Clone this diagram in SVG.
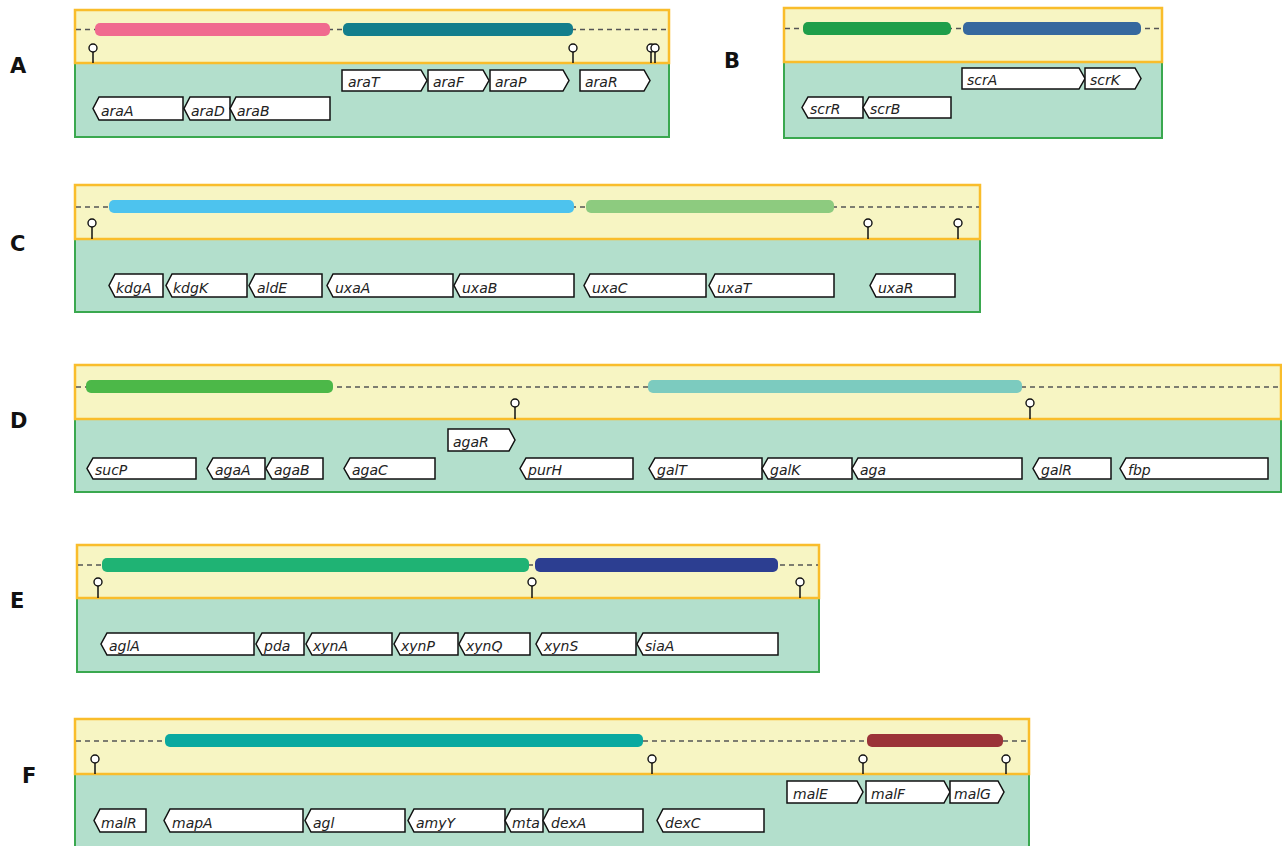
<svg xmlns="http://www.w3.org/2000/svg" width="1282" height="846" viewBox="0 0 1282 846">
<style>
.yel{fill:#f7f5c3;stroke:#f9bd2b;stroke-width:2.5}
.grn{fill:#b3dfcc;stroke:#3aa84f;stroke-width:2}
.bb{stroke:#555;stroke-width:1.3;stroke-dasharray:5 4;fill:none}
.gene{fill:#fff;stroke:#111;stroke-width:1.5}
.gt{font-family:"DejaVu Sans",Verdana,sans-serif;font-style:italic;font-size:14px;fill:#222}
.pl{font-family:"DejaVu Sans",Verdana,sans-serif;font-size:21px;font-weight:bold;fill:#111}
.stem{stroke:#111;stroke-width:1.5}
.pin{fill:#fff;stroke:#111;stroke-width:1.4}
</style>
<rect width="1282" height="846" fill="#fff"/>

<!-- Panel A -->
<g id="panelA">
<text class="pl" x="10" y="73">A</text>
<rect class="grn" x="75" y="63" width="594" height="74"/>
<rect class="yel" x="75" y="10" width="594" height="53"/>
<line class="bb" x1="76" y1="29.5" x2="668" y2="29.5"/>
<rect x="95" y="23" width="235" height="13" rx="5" fill="#f06a8f"/>
<rect x="343" y="23" width="230" height="13" rx="5" fill="#137e8c"/>
<g id="termA"><line class="stem" x1="93" y1="52" x2="93" y2="63"/><circle class="pin" cx="93" cy="48" r="4"/>
<line class="stem" x1="573" y1="52" x2="573" y2="63"/><circle class="pin" cx="573" cy="48" r="4"/>
<line class="stem" x1="651" y1="52" x2="651" y2="63"/><circle class="pin" cx="651" cy="48" r="4"/>
<line class="stem" x1="655" y1="52" x2="655" y2="63"/><circle class="pin" cx="655" cy="48" r="4"/></g>
<g id="araT"><polygon class="gene" points="342,70 421,70 427,80.5 421,91 342,91"/><text class="gt" x="348" y="87">araT</text></g>
<g id="araF"><polygon class="gene" points="428,70 483,70 489,80.5 483,91 428,91"/><text class="gt" x="433" y="87">araF</text></g>
<g id="araP"><polygon class="gene" points="490,70 563,70 569,80.5 563,91 490,91"/><text class="gt" x="495" y="87">araP</text></g>
<g id="araR"><polygon class="gene" points="580,70 644,70 650,80.5 644,91 580,91"/><text class="gt" x="585" y="87">araR</text></g>
<g id="araA"><polygon class="gene" points="99,97 183,97 183,120 99,120 93,108.5"/><text class="gt" x="101" y="116">araA</text></g>
<g id="araD"><polygon class="gene" points="190,97 230,97 230,120 190,120 184,108.5"/><text class="gt" x="191" y="116">araD</text></g>
<g id="araB"><polygon class="gene" points="236,97 330,97 330,120 236,120 230,108.5"/><text class="gt" x="237" y="116">araB</text></g>
</g>

<!-- Panel B -->
<g id="panelB">
<text class="pl" x="724" y="68">B</text>
<rect class="grn" x="784" y="62" width="378" height="76"/>
<rect class="yel" x="784" y="8" width="378" height="54"/>
<line class="bb" x1="785" y1="28.5" x2="1161" y2="28.5"/>
<rect x="803" y="22" width="148" height="13" rx="5" fill="#1f9e4a"/>
<rect x="963" y="22" width="178" height="13" rx="5" fill="#36689e"/>
<g id="scrA"><polygon class="gene" points="962,68 1079,68 1085,78.5 1079,89 962,89"/><text class="gt" x="967" y="85">scrA</text></g>
<g id="scrK"><polygon class="gene" points="1085,68 1135,68 1141,78.5 1135,89 1085,89"/><text class="gt" x="1090" y="85">scrK</text></g>
<g id="scrR"><polygon class="gene" points="808,97 863,97 863,118 808,118 802,107.5"/><text class="gt" x="810" y="114">scrR</text></g>
<g id="scrB"><polygon class="gene" points="869,97 951,97 951,118 869,118 863,107.5"/><text class="gt" x="870" y="114">scrB</text></g>
</g>

<!-- Panel C -->
<g id="panelC">
<text class="pl" x="10" y="251">C</text>
<rect class="grn" x="75" y="239" width="905" height="73"/>
<rect class="yel" x="75" y="185" width="905" height="54"/>
<line class="bb" x1="76" y1="207" x2="979" y2="207"/>
<rect x="109" y="200" width="465" height="13" rx="5" fill="#4dc3ee"/>
<rect x="586" y="200" width="248" height="13" rx="5" fill="#8dcb7f"/>
<g id="termC"><line class="stem" x1="92" y1="227" x2="92" y2="239"/><circle class="pin" cx="92" cy="223" r="4"/>
<line class="stem" x1="868" y1="227" x2="868" y2="239"/><circle class="pin" cx="868" cy="223" r="4"/>
<line class="stem" x1="958" y1="227" x2="958" y2="239"/><circle class="pin" cx="958" cy="223" r="4"/></g>
<g id="kdgA"><polygon class="gene" points="115,274 163,274 163,297 115,297 109,285.5"/><text class="gt" x="116" y="293">kdgA</text></g>
<g id="kdgK"><polygon class="gene" points="172,274 247,274 247,297 172,297 166,285.5"/><text class="gt" x="173" y="293">kdgK</text></g>
<g id="aldE"><polygon class="gene" points="255,274 322,274 322,297 255,297 249,285.5"/><text class="gt" x="257" y="293">aldE</text></g>
<g id="uxaA"><polygon class="gene" points="333,274 453,274 453,297 333,297 327,285.5"/><text class="gt" x="335" y="293">uxaA</text></g>
<g id="uxaB"><polygon class="gene" points="460,274 574,274 574,297 460,297 454,285.5"/><text class="gt" x="462" y="293">uxaB</text></g>
<g id="uxaC"><polygon class="gene" points="590,274 706,274 706,297 590,297 584,285.5"/><text class="gt" x="592" y="293">uxaC</text></g>
<g id="uxaT"><polygon class="gene" points="715,274 834,274 834,297 715,297 709,285.5"/><text class="gt" x="717" y="293">uxaT</text></g>
<g id="uxaR"><polygon class="gene" points="876,274 955,274 955,297 876,297 870,285.5"/><text class="gt" x="878" y="293">uxaR</text></g>
</g>

<!-- Panel D -->
<g id="panelD">
<text class="pl" x="10" y="428">D</text>
<rect class="grn" x="75" y="419" width="1206" height="73"/>
<rect class="yel" x="75" y="365" width="1206" height="54"/>
<line class="bb" x1="76" y1="387" x2="1280" y2="387"/>
<rect x="86" y="380" width="247" height="13" rx="5" fill="#4cb848"/>
<rect x="648" y="380" width="374" height="13" rx="5" fill="#7ccbbf"/>
<g id="termD"><line class="stem" x1="515" y1="407" x2="515" y2="419"/><circle class="pin" cx="515" cy="403" r="4"/>
<line class="stem" x1="1030" y1="407" x2="1030" y2="419"/><circle class="pin" cx="1030" cy="403" r="4"/></g>
<g id="agaR"><polygon class="gene" points="448,429 509,429 515,440 509,451 448,451"/><text class="gt" x="453" y="447">agaR</text></g>
<g id="sucP"><polygon class="gene" points="93,458 196,458 196,479 93,479 87,468.5"/><text class="gt" x="95" y="475">sucP</text></g>
<g id="agaA"><polygon class="gene" points="213,458 265,458 265,479 213,479 207,468.5"/><text class="gt" x="215" y="475">agaA</text></g>
<g id="agaB"><polygon class="gene" points="272,458 323,458 323,479 272,479 266,468.5"/><text class="gt" x="274" y="475">agaB</text></g>
<g id="agaC"><polygon class="gene" points="350,458 435,458 435,479 350,479 344,468.5"/><text class="gt" x="352" y="475">agaC</text></g>
<g id="purH"><polygon class="gene" points="526,458 633,458 633,479 526,479 520,468.5"/><text class="gt" x="528" y="475">purH</text></g>
<g id="galT"><polygon class="gene" points="655,458 762,458 762,479 655,479 649,468.5"/><text class="gt" x="657" y="475">galT</text></g>
<g id="galK"><polygon class="gene" points="768,458 852,458 852,479 768,479 762,468.5"/><text class="gt" x="770" y="475">galK</text></g>
<g id="aga"><polygon class="gene" points="858,458 1022,458 1022,479 858,479 852,468.5"/><text class="gt" x="860" y="475">aga</text></g>
<g id="galR"><polygon class="gene" points="1039,458 1111,458 1111,479 1039,479 1033,468.5"/><text class="gt" x="1041" y="475">galR</text></g>
<g id="fbp"><polygon class="gene" points="1126,458 1268,458 1268,479 1126,479 1120,468.5"/><text class="gt" x="1128" y="475">fbp</text></g>
</g>

<!-- Panel E -->
<g id="panelE">
<text class="pl" x="10" y="608">E</text>
<rect class="grn" x="77" y="598" width="742" height="74"/>
<rect class="yel" x="77" y="545" width="742" height="53"/>
<line class="bb" x1="78" y1="565" x2="818" y2="565"/>
<rect x="102" y="558" width="427" height="14" rx="5" fill="#1fb374"/>
<rect x="535" y="558" width="243" height="14" rx="5" fill="#2c3e91"/>
<g id="termE"><line class="stem" x1="98" y1="586" x2="98" y2="598"/><circle class="pin" cx="98" cy="582" r="4"/>
<line class="stem" x1="532" y1="586" x2="532" y2="598"/><circle class="pin" cx="532" cy="582" r="4"/>
<line class="stem" x1="800" y1="586" x2="800" y2="598"/><circle class="pin" cx="800" cy="582" r="4"/></g>
<g id="aglA"><polygon class="gene" points="107,633 254,633 254,655 107,655 101,644"/><text class="gt" x="109" y="651">aglA</text></g>
<g id="pda"><polygon class="gene" points="262,633 304,633 304,655 262,655 256,644"/><text class="gt" x="264" y="651">pda</text></g>
<g id="xynA"><polygon class="gene" points="312,633 392,633 392,655 312,655 306,644"/><text class="gt" x="313" y="651">xynA</text></g>
<g id="xynP"><polygon class="gene" points="400,633 458,633 458,655 400,655 394,644"/><text class="gt" x="401" y="651">xynP</text></g>
<g id="xynQ"><polygon class="gene" points="465,633 530,633 530,655 465,655 459,644"/><text class="gt" x="466" y="651">xynQ</text></g>
<g id="xynS"><polygon class="gene" points="542,633 636,633 636,655 542,655 536,644"/><text class="gt" x="544" y="651">xynS</text></g>
<g id="siaA"><polygon class="gene" points="643,633 778,633 778,655 643,655 637,644"/><text class="gt" x="645" y="651">siaA</text></g>
</g>

<!-- Panel F -->
<g id="panelF">
<text class="pl" x="22" y="783">F</text>
<rect class="grn" x="75" y="774" width="954" height="80"/>
<rect class="yel" x="75" y="719" width="954" height="55"/>
<line class="bb" x1="76" y1="741" x2="1028" y2="741"/>
<rect x="165" y="734" width="478" height="13" rx="5" fill="#0aa9a0"/>
<rect x="867" y="734" width="136" height="13" rx="5" fill="#9b3338"/>
<g id="termF"><line class="stem" x1="95" y1="763" x2="95" y2="774"/><circle class="pin" cx="95" cy="759" r="4"/>
<line class="stem" x1="652" y1="763" x2="652" y2="774"/><circle class="pin" cx="652" cy="759" r="4"/>
<line class="stem" x1="863" y1="763" x2="863" y2="774"/><circle class="pin" cx="863" cy="759" r="4"/>
<line class="stem" x1="1006" y1="763" x2="1006" y2="774"/><circle class="pin" cx="1006" cy="759" r="4"/></g>
<g id="malE"><polygon class="gene" points="787,781 857,781 863,792 857,803 787,803"/><text class="gt" x="793" y="799">malE</text></g>
<g id="malF"><polygon class="gene" points="866,781 944,781 950,792 944,803 866,803"/><text class="gt" x="871" y="799">malF</text></g>
<g id="malG"><polygon class="gene" points="950,781 998,781 1004,792 998,803 950,803"/><text class="gt" x="954" y="799">malG</text></g>
<g id="malR"><polygon class="gene" points="100,809 146,809 146,832 100,832 94,820.5"/><text class="gt" x="101" y="828">malR</text></g>
<g id="mapA"><polygon class="gene" points="170,809 303,809 303,832 170,832 164,820.5"/><text class="gt" x="172" y="828">mapA</text></g>
<g id="agl"><polygon class="gene" points="311,809 405,809 405,832 311,832 305,820.5"/><text class="gt" x="313" y="828">agl</text></g>
<g id="amyY"><polygon class="gene" points="414,809 505,809 505,832 414,832 408,820.5"/><text class="gt" x="416" y="828">amyY</text></g>
<g id="mta"><polygon class="gene" points="511,809 543,809 543,832 511,832 505,820.5"/><text class="gt" x="512" y="828">mta</text></g>
<g id="dexA"><polygon class="gene" points="549,809 643,809 643,832 549,832 543,820.5"/><text class="gt" x="551" y="828">dexA</text></g>
<g id="dexC"><polygon class="gene" points="663,809 764,809 764,832 663,832 657,820.5"/><text class="gt" x="665" y="828">dexC</text></g>
</g>
</svg>
